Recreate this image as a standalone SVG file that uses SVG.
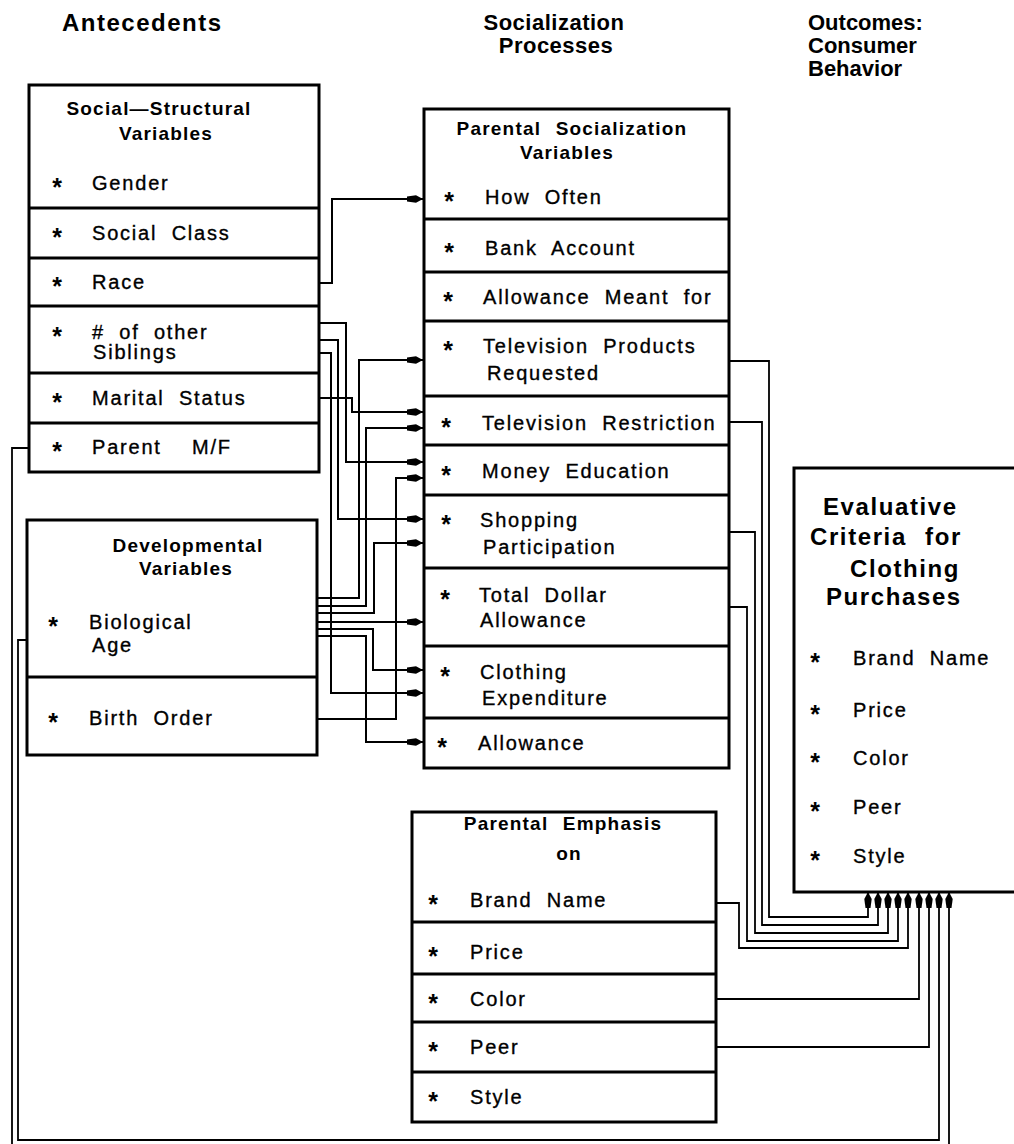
<svg xmlns="http://www.w3.org/2000/svg" width="1014" height="1144" viewBox="0 0 1014 1144">
<defs>
<style>
.box{fill:#fff;stroke:#000;stroke-width:3}
.div{stroke:#000;stroke-width:3;fill:none}
.c{fill:none;stroke:#000;stroke-width:2}
.cr{fill:none;stroke:#000;stroke-width:1.8}
text{font-family:"Liberation Sans",Arial,sans-serif;fill:#000}
.hd{font-size:22px;font-weight:bold;letter-spacing:0.5px}
.tt{font-size:19px;font-weight:bold;letter-spacing:1.2px;word-spacing:8px;text-anchor:middle}
.it{font-size:20px;letter-spacing:1.8px;word-spacing:7px;stroke:#000;stroke-width:0.35px}
.b{font-size:25px;font-weight:bold;text-anchor:middle}
.ev{font-size:24px;font-weight:bold;letter-spacing:1.6px;word-spacing:10px}
</style>
<marker id="ah" markerUnits="userSpaceOnUse" markerWidth="18" markerHeight="10" refX="16" refY="5" orient="auto" viewBox="0 0 18 10">
<path d="M0,2.5 L9,1.3 L16,5 L9,8.7 L0,7.5 Z" fill="#000"/>
</marker>
</defs>
<rect width="1014" height="1144" fill="#fff"/>

<g id="headers">
<text class="hd" x="62" y="31" style="font-size:24px;letter-spacing:1.5px">Antecedents</text>
<text class="hd" x="554" y="30" text-anchor="middle">Socialization</text>
<text class="hd" x="556" y="53" text-anchor="middle">Processes</text>
<text class="hd" x="808" y="30" style="letter-spacing:0">Outcomes:</text>
<text class="hd" x="808" y="53" style="letter-spacing:0">Consumer</text>
<text class="hd" x="808" y="76" style="letter-spacing:0">Behavior</text>
</g>

<g id="connectors">
<path class="c" d="M319,283 H332 V199 H423" marker-end="url(#ah)"/>
<path class="c" d="M319,323 H346 V462 H423" marker-end="url(#ah)"/>
<path class="c" d="M319,340 H338 V519 H423" marker-end="url(#ah)"/>
<path class="c" d="M319,353 H331 V693 H423" marker-end="url(#ah)"/>
<path class="c" d="M319,398 H352 V412 H423" marker-end="url(#ah)"/>
<path class="c" d="M317,598 H359 V360 H423" marker-end="url(#ah)"/>
<path class="c" d="M317,606 H366 V428 H423" marker-end="url(#ah)"/>
<path class="c" d="M317,613 H374 V543 H423" marker-end="url(#ah)"/>
<path class="c" d="M317,622 H423" marker-end="url(#ah)"/>
<path class="c" d="M317,629 H373 V670 H423" marker-end="url(#ah)"/>
<path class="c" d="M317,636 H366 V742 H423" marker-end="url(#ah)"/>
<path class="c" d="M317,719 H396 V478 H423" marker-end="url(#ah)"/>
<path class="cr" d="M729,361 H769 V917 H868 V892" marker-end="url(#ah)"/>
<path class="cr" d="M729,422 H762 V925 H878 V892" marker-end="url(#ah)"/>
<path class="cr" d="M729,532 H755 V933 H888 V892" marker-end="url(#ah)"/>
<path class="cr" d="M729,607 H747 V941 H898 V892" marker-end="url(#ah)"/>
<path class="cr" d="M716,903 H739 V948 H908 V892" marker-end="url(#ah)"/>
<path class="cr" d="M716,999 H919 V892" marker-end="url(#ah)"/>
<path class="cr" d="M716,1047 H929 V892" marker-end="url(#ah)"/>
<path class="cr" d="M27,640 H18 V1140 H939 V892" marker-end="url(#ah)"/>
<path class="cr" d="M29,448 H12 V1147 H949 V892" marker-end="url(#ah)"/>
</g>

<g id="social-structural">
<rect class="box" x="29" y="85" width="290" height="387"/>
<path class="div" d="M29,208 H319 M29,258 H319 M29,306 H319 M29,373 H319 M29,423 H319"/>
<text class="tt" x="159" y="115">Social—Structural</text>
<text class="tt" x="166" y="140">Variables</text>
<text class="b" x="57" y="196">*</text><text class="it" x="92" y="190">Gender</text>
<text class="b" x="57" y="246">*</text><text class="it" x="92" y="240">Social Class</text>
<text class="b" x="57" y="295">*</text><text class="it" x="92" y="289">Race</text>
<text class="b" x="57" y="345">*</text><text class="it" x="92" y="339"># of other</text>
<text class="it" x="93" y="359">Siblings</text>
<text class="b" x="57" y="411">*</text><text class="it" x="92" y="405">Marital Status</text>
<text class="b" x="57" y="460">*</text><text class="it" y="454"><tspan x="92">Parent</tspan><tspan x="192">M/F</tspan></text>
</g>

<g id="developmental">
<rect class="box" x="27" y="520" width="290" height="235"/>
<path class="div" d="M27,677 H317"/>
<text class="tt" x="188" y="552">Developmental</text>
<text class="tt" x="186" y="575">Variables</text>
<text class="b" x="53" y="635">*</text><text class="it" x="89" y="629">Biological</text>
<text class="it" x="92" y="652">Age</text>
<text class="b" x="53" y="731">*</text><text class="it" x="89" y="725">Birth Order</text>
</g>

<g id="parental-socialization">
<rect class="box" x="424" y="109" width="305" height="659"/>
<path class="div" d="M424,219 H729 M424,272 H729 M424,321 H729 M424,396 H729 M424,445 H729 M424,495 H729 M424,568 H729 M424,646 H729 M424,718 H729"/>
<text class="tt" x="572" y="135">Parental Socialization</text>
<text class="tt" x="567" y="159">Variables</text>
<text class="b" x="449" y="210">*</text><text class="it" x="485" y="204">How Often</text>
<text class="b" x="449" y="261">*</text><text class="it" x="485" y="255">Bank Account</text>
<text class="b" x="448" y="310">*</text><text class="it" x="483" y="304">Allowance Meant for</text>
<text class="b" x="448" y="359">*</text><text class="it" x="483" y="353">Television Products</text>
<text class="it" x="487" y="380">Requested</text>
<text class="b" x="446" y="436">*</text><text class="it" x="482" y="430">Television Restriction</text>
<text class="b" x="446" y="484">*</text><text class="it" x="482" y="478">Money Education</text>
<text class="b" x="446" y="533">*</text><text class="it" x="480" y="527">Shopping</text>
<text class="it" x="483" y="554">Participation</text>
<text class="b" x="445" y="608">*</text><text class="it" x="479" y="602">Total Dollar</text>
<text class="it" x="480" y="627">Allowance</text>
<text class="b" x="445" y="685">*</text><text class="it" x="480" y="679">Clothing</text>
<text class="it" x="482" y="705">Expenditure</text>
<text class="b" x="442" y="756">*</text><text class="it" x="478" y="750">Allowance</text>
</g>

<g id="parental-emphasis">
<rect class="box" x="412" y="812" width="304" height="310"/>
<path class="div" d="M412,922 H716 M412,974 H716 M412,1022 H716 M412,1072 H716"/>
<text class="tt" x="563" y="830">Parental Emphasis</text>
<text class="tt" x="569" y="860">on</text>
<text class="b" x="433" y="913">*</text><text class="it" x="470" y="907">Brand Name</text>
<text class="b" x="433" y="965">*</text><text class="it" x="470" y="959">Price</text>
<text class="b" x="433" y="1012">*</text><text class="it" x="470" y="1006">Color</text>
<text class="b" x="433" y="1060">*</text><text class="it" x="470" y="1054">Peer</text>
<text class="b" x="433" y="1110">*</text><text class="it" x="470" y="1104">Style</text>
</g>

<g id="evaluative-criteria">
<path class="div" d="M1020,468 H794 V892 H1020" fill="#fff"/>
<text class="ev" x="823" y="515">Evaluative</text>
<text class="ev" x="810" y="545">Criteria for</text>
<text class="ev" x="850" y="577">Clothing</text>
<text class="ev" x="826" y="605">Purchases</text>
<text class="b" x="815" y="671">*</text><text class="it" x="853" y="665">Brand Name</text>
<text class="b" x="815" y="723">*</text><text class="it" x="853" y="717">Price</text>
<text class="b" x="815" y="771">*</text><text class="it" x="853" y="765">Color</text>
<text class="b" x="815" y="820">*</text><text class="it" x="853" y="814">Peer</text>
<text class="b" x="815" y="869">*</text><text class="it" x="853" y="863">Style</text>
</g>
</svg>
